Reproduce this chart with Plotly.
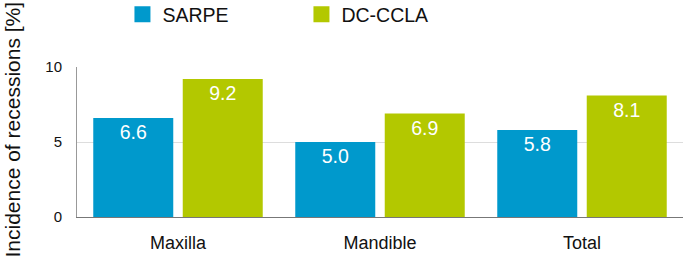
import plotly.graph_objects as go

categories = ["Maxilla", "Mandible", "Total"]
sarpe = [6.6, 5.0, 5.8]
dccla = [9.2, 6.9, 8.1]
series_names = ["SARPE", "DC-CCLA"]
y_ticks = [0, 5, 10]

FONT = "Liberation Sans, Arial, Helvetica, sans-serif"
colors = ["#0099CC", "#B3C800"]

fig = go.Figure()
for name, vals, col in zip(series_names, [sarpe, dccla], colors):
    fig.add_trace(go.Bar(
        x=categories, y=vals, name=name, marker_color=col, marker_line_width=0,
        text=[f"{v:.1f}" for v in vals], textposition="inside",
        insidetextanchor="end", textfont=dict(color="white", size=19.5, family=FONT),
        cliponaxis=False, showlegend=False,
    ))
# legend proxies (no data) so the legend keys are large squares
for name, col in zip(series_names, colors):
    fig.add_trace(go.Scatter(
        x=[None], y=[None], mode="markers", name=name,
        marker=dict(symbol="square", size=19, color=col), showlegend=True,
    ))

fig.update_layout(
    width=685, height=260,
    margin=dict(l=77, r=2, t=67, b=43, autoexpand=False),
    paper_bgcolor="white", plot_bgcolor="white",
    barmode="group", bargap=0.114, bargroupgap=0.106,
    font=dict(family=FONT, color="#222222"),
    showlegend=True,
    legend=dict(orientation="h", x=0.075, xanchor="left", y=1.48, yanchor="top",
                yref="paper", font=dict(size=19.5, color="#111111"),
                entrywidth=134, entrywidthmode="pixels", itemwidth=30,
                bgcolor="rgba(0,0,0,0)"),
)
fig.update_xaxes(showline=True, linecolor="#777777", linewidth=1,
                 tickfont=dict(size=18, color="#111111"), ticks="", ticklabelstandoff=9)
fig.update_yaxes(range=[0, 10], tickvals=y_ticks, showgrid=True, gridcolor="#DDDDDD",
                 showline=True, linecolor="#999999", linewidth=1, zeroline=False,
                 tickfont=dict(size=15, color="#111111"), ticks="", ticklabelstandoff=11)
fig.add_annotation(text="Incidence of recessions [%]", textangle=-90,
                   xref="paper", x=-0.108, xanchor="center",
                   yref="paper", y=(217 - 130) / 150, yanchor="middle",
                   showarrow=False, font=dict(size=21, color="#111111", family=FONT))
fig.write_html("out.html", config={"displayModeBar": False},
               post_script="document.body.style.margin='0';")
